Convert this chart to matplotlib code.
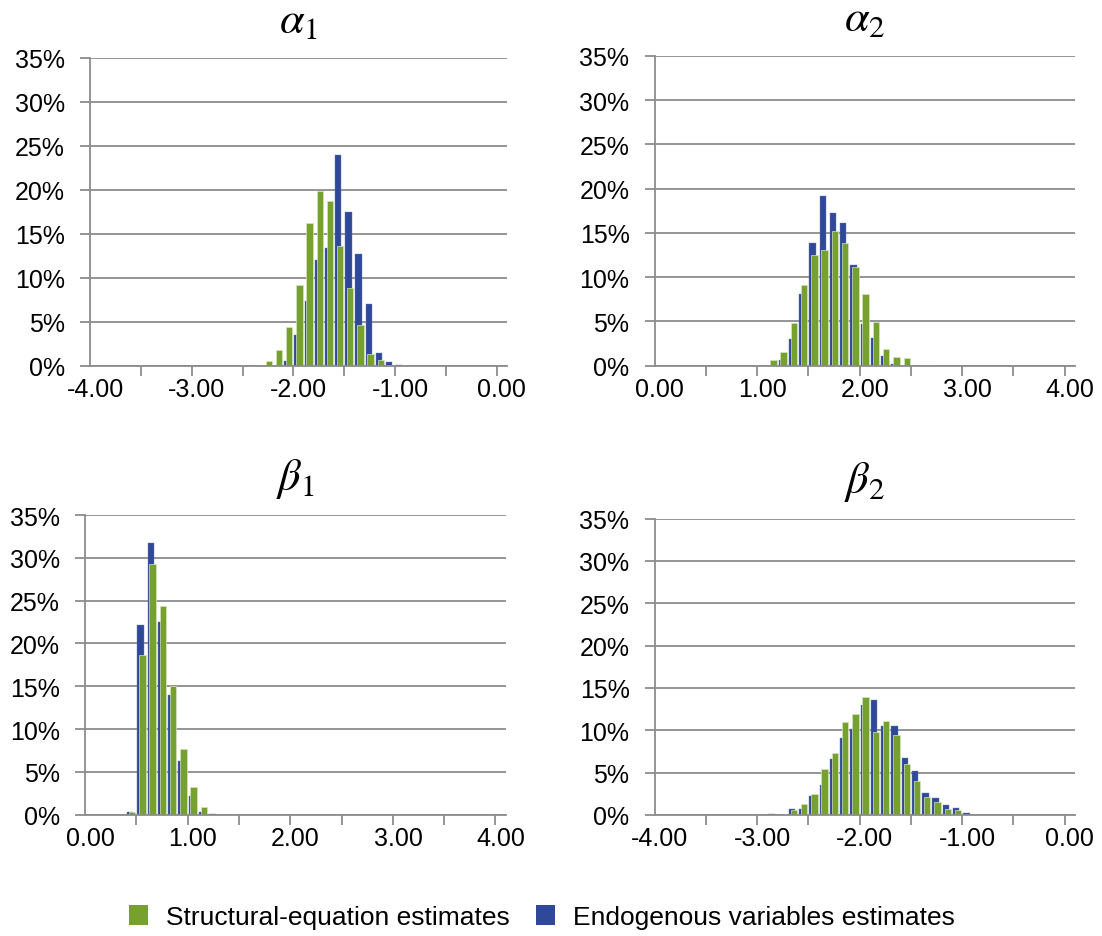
import matplotlib
matplotlib.use("Agg")
import matplotlib.pyplot as plt
from matplotlib.patches import Patch
import numpy as np

plt.rcParams['font.family'] = ['Liberation Sans', 'DejaVu Sans']
plt.rcParams['mathtext.fontset'] = 'stix'

# ---------------- data (percent of draws per 0.10-wide bin) ----------------
a1_bins   = [-2.40, -2.30, -2.20, -2.10, -2.00, -1.90, -1.80, -1.70, -1.60, -1.50,
             -1.40, -1.30, -1.20, -1.10, -1.00]
a1_struct = [0.10, 0.53, 1.80, 4.40, 9.20, 16.20, 19.90, 18.75, 13.60, 8.80,
             4.60, 1.33, 0.68, 0.05, 0.00]
a1_endo   = [0.00, 0.00, 0.00, 0.50, 3.50, 7.35, 12.00, 13.40, 24.00, 17.50,
             12.70, 7.00, 1.40, 0.40, 0.05]

a2_bins   = [1.10, 1.20, 1.30, 1.40, 1.50, 1.60, 1.70, 1.80, 1.90, 2.00,
             2.10, 2.20, 2.30, 2.40, 2.50, 2.60]
a2_struct = [0.67, 1.54, 4.80, 9.10, 12.50, 13.10, 15.20, 13.90, 11.10, 8.10,
             4.90, 1.83, 0.93, 0.82, 0.00, 0.10]
a2_endo   = [0.00, 0.60, 3.00, 8.10, 13.90, 19.20, 17.30, 16.10, 11.40, 4.70,
             3.10, 1.10, 0.20, 0.00, 0.00, 0.00]

b1_bins   = [0.40, 0.50, 0.60, 0.70, 0.80, 0.90, 1.00, 1.10, 1.20]
b1_struct = [0.30, 18.60, 29.30, 24.40, 15.00, 7.70, 3.20, 0.86, 0.00]
b1_endo   = [0.27, 22.20, 31.70, 22.50, 14.00, 6.30, 2.15, 0.35, 0.10]

b2_bins   = [-2.90, -2.80, -2.70, -2.60, -2.50, -2.40, -2.30, -2.20, -2.10, -2.00,
             -1.90, -1.80, -1.70, -1.60, -1.50, -1.40, -1.30, -1.20, -1.10, -1.00]
b2_struct = [0.00, 0.10, 0.60, 1.26, 2.48, 5.40, 7.30, 11.00, 11.90, 13.90,
             9.80, 11.06, 9.50, 6.00, 4.00, 2.08, 1.50, 0.70, 0.55, 0.00]
b2_endo   = [0.10, 0.00, 0.70, 0.65, 2.24, 3.54, 6.60, 9.05, 10.20, 13.00,
             13.60, 10.50, 10.50, 6.70, 5.20, 2.56, 1.97, 1.22, 0.83, 0.24]

x_ranges  = [(-4.0, 0.0), (0.0, 4.0), (0.0, 4.0), (-4.0, 0.0)]
titles    = [r'$\alpha_1$', r'$\alpha_2$', r'$\beta_1$', r'$\beta_2$']
y_ticks   = [0, 5, 10, 15, 20, 25, 30, 35]
series_names = ['Structural-equation estimates', 'Endogenous variables estimates']

GREEN = '#77A12E'
BLUE = '#2F4898'
GRID = '#8C8C8C'

W, H = 1102, 937
fig = plt.figure(figsize=(W / 100, H / 100), dpi=100)

# axes rectangles in pixels: left, top, right, bottom
rects = [(90, 59, 507, 366.5),
         (654.5, 57, 1075, 366.5),
         (85, 516, 505.7, 815.7),
         (654.5, 519.5, 1075, 816)]

panels = [(a1_bins, a1_struct, a1_endo),
          (a2_bins, a2_struct, a2_endo),
          (b1_bins, b1_struct, b1_endo),
          (b2_bins, b2_struct, b2_endo)]

FS = 18
bw = 0.062
off = 0.009

for (l, t, r, b), (bins, st, en), (lo, hi), ttl in zip(rects, panels, x_ranges, titles):
    ax = fig.add_axes([l / W, 1 - b / H, (r - l) / W, (b - t) / H])
    ax.bar(np.array(bins) - off, en, width=bw, color=BLUE, edgecolor='#6A7DB8',
           linewidth=0.3, zorder=2)
    ax.bar(np.array(bins) + off, st, width=bw, color=GREEN, edgecolor='#D5E4BE',
           linewidth=0.5, zorder=3)
    ax.set_xlim(lo - 0.05, hi + 0.05)
    ax.set_ylim(0, 35)
    ax.set_yticks(y_ticks)
    ax.set_yticklabels([f'{v}%' for v in y_ticks], fontsize=FS)
    major = np.arange(lo, hi + 0.001, 1.0)
    ax.set_xticks(major)
    ax.set_xticklabels([f'{v:.2f}' if v != 0 else '0.00' for v in major], fontsize=FS)
    ax.set_xticks(np.arange(lo - 0.05 + 0.5, hi, 0.5), minor=True)
    ax.tick_params(axis='x', which='major', length=0, pad=8)
    ax.tick_params(axis='x', which='minor', length=7, width=1.3, color=GRID)
    ax.tick_params(axis='y', length=7, width=1.3, color=GRID, pad=11)
    ax.yaxis.grid(True, color=GRID, linewidth=1.3)
    ax.set_axisbelow(True)
    for s in ['top', 'right']:
        ax.spines[s].set_visible(False)
    for s in ['left', 'bottom']:
        ax.spines[s].set_color(GRID)
        ax.spines[s].set_linewidth(1.3)
    ax.spines['bottom'].set_zorder(4)
    fig.text((l + r) / 2 / W, 1 - (t - 26) / H, ttl, fontsize=32,
             ha='center', va='baseline')

handles = [Patch(facecolor=GREEN), Patch(facecolor=BLUE)]
fig.legend(handles, series_names, loc='center', bbox_to_anchor=(0.4914, 0.0203),
           ncol=2, frameon=False, fontsize=19, handlelength=0.72, handleheight=0.76,
           handletextpad=0.68, columnspacing=1.0)

fig.savefig('out.png', dpi=100)
